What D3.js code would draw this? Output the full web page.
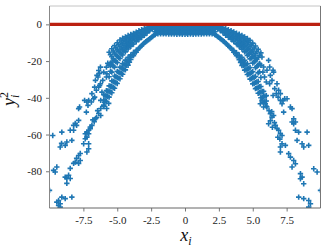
<!DOCTYPE html>
<html>
<head>
<meta charset="utf-8">
<script src="https://cdn.jsdelivr.net/npm/d3@7"></script>
<style>
  body { margin: 0; background: #fff; }
  svg { display: block; }
</style>
</head>
<body>
<svg width="325" height="249"></svg>
<script>
var xTicks = [-7.5, -5, -2.5, 0, 2.5, 5, 7.5];
var xTickLabels = ["-7.5", "-5.0", "-2.5", "0", "2.5", "5.0", "7.5"];
var yTicks = [0, -20, -40, -60, -80];
var yTickLabels = ["0", "-20", "-40", "-60", "-80"];
var refLevel = 0;

// dense parts read column by column: [x, [y, y, ...]]
var capCols = [
  [-2.2, [-0.8, -2.2, -4.0, -5.6]], [-2.1, [-1.5, -3.0, -4.7]],
  [-2.0, [-0.8, -2.3, -3.8, -5.1]], [-1.9, [-1.6, -3.1, -4.5]],
  [-1.8, [-0.9, -2.4, -3.9, -5.1]], [-1.7, [-1.5, -3.0, -4.5]],
  [-1.6, [-0.8, -2.3, -3.8, -5.2]], [-1.5, [-1.6, -3.1, -4.6]],
  [-1.4, [-0.9, -2.4, -3.9, -5.2]], [-1.3, [-1.5, -3.0, -4.5]],
  [-1.2, [-0.8, -2.3, -3.8, -5.3]], [-1.1, [-1.6, -3.1, -4.6]],
  [-1.0, [-0.9, -2.4, -3.9, -5.3]], [-0.9, [-1.5, -3.0, -4.6]],
  [-0.8, [-0.8, -2.3, -3.8, -5.3]], [-0.7, [-1.6, -3.1, -4.6]],
  [-0.6, [-0.9, -2.4, -3.9, -5.4]], [-0.5, [-1.5, -3.0, -4.6]],
  [-0.4, [-0.8, -2.3, -3.8, -5.3]], [-0.3, [-1.6, -3.1, -4.7]],
  [-0.2, [-0.9, -2.4, -3.9, -5.4]], [-0.1, [-1.5, -3.0, -4.6]],
  [0.0, [-0.8, -2.3, -3.8, -5.4]], [0.1, [-1.6, -3.1, -4.7]],
  [0.2, [-0.9, -2.4, -3.9, -5.4]], [0.3, [-1.5, -3.0, -4.6]],
  [0.4, [-0.8, -2.3, -3.8, -5.3]], [0.5, [-1.6, -3.1, -4.6]],
  [0.6, [-0.9, -2.4, -3.9, -5.4]], [0.7, [-1.5, -3.0, -4.6]],
  [0.8, [-0.8, -2.3, -3.8, -5.3]], [0.9, [-1.6, -3.1, -4.6]],
  [1.0, [-0.9, -2.4, -3.9, -5.3]], [1.1, [-1.5, -3.0, -4.5]],
  [1.2, [-0.8, -2.3, -3.8, -5.3]], [1.3, [-1.6, -3.1, -4.6]],
  [1.4, [-0.9, -2.4, -3.9, -5.2]], [1.5, [-1.5, -3.0, -4.5]],
  [1.6, [-0.8, -2.3, -3.8, -5.2]], [1.7, [-1.6, -3.1, -4.5]],
  [1.8, [-0.9, -2.4, -3.9, -5.1]], [1.9, [-1.5, -3.0, -4.5]],
  [2.0, [-0.8, -2.3, -3.8, -5.1]], [2.1, [-1.6, -3.0, -4.7]],
  [2.2, [-0.8, -2.2, -4.0, -5.6]]
];

var leftOuterCols = [
  [-2.3, [-1.6]],
  [-2.4, [-0.9, -2.6]], [-2.5, [-1.0, -2.0]],
  [-2.6, [-1.1, -3.4]], [-2.7, [-2.0, -3.4]],
  [-2.8, [-1.6, -3.2, -4.7]], [-2.9, [-2.8, -4.5]],
  [-3.0, [-2.3, -4.2, -6.0]], [-3.1, [-3.6, -5.6]],
  [-3.2, [-2.9, -5.0, -7.1]], [-3.3, [-4.3, -6.6]],
  [-3.4, [-3.5, -5.9, -8.3]], [-3.5, [-5.1, -7.6]],
  [-3.6, [-4.2, -6.7, -9.5]], [-3.7, [-5.9, -8.6]],
  [-3.8, [-4.9, -7.6, -10.7]], [-3.9, [-6.3, -8.6, -10.8]],
  [-4.0, [-5.5, -7.7, -9.9, -12.0]], [-4.1, [-7.0, -9.3, -11.6]],
  [-4.2, [-6.1, -8.5, -11.0, -13.4]], [-4.3, [-7.7, -10.3, -12.9]],
  [-4.4, [-6.8, -9.5, -12.3, -15.0]], [-4.5, [-8.6, -11.5, -14.4]],
  [-4.6, [-7.6, -10.6, -13.7, -16.7]], [-4.7, [-9.6, -12.9, -16.1]],
  [-4.8, [-8.5, -11.9, -15.4, -18.6]], [-4.9, [-11.0, -14.6, -18.1]],
  [-5.0, [-10.0, -13.7, -17.4, -20.9]], [-5.1, [-12.7, -16.6, -20.3]],
  [-5.2, [-11.6, -15.6, -19.6, -23.3]], [-5.3, [-14.5, -18.7, -22.7]],
  [-5.4, [-13.3, -17.6, -21.9, -26.0]], [-5.5, [-16.5, -21.0, -25.5]],
  [-5.6, [-15.2, -22.0, -28.5]]
];

var leftInnerCols = [
  [-2.3, [-6.0]],
  [-2.4, [-6.6]], [-2.5, [-7.2]],
  [-2.6, [-7.8]], [-2.7, [-8.35]],
  [-2.8, [-8.9]], [-2.9, [-9.5]],
  [-3.0, [-10.1]], [-3.1, [-10.85]],
  [-3.2, [-11.6]], [-3.3, [-12.3]],
  [-3.4, [-13.0]], [-3.5, [-14.0]],
  [-3.6, [-14.1, -15.1]], [-3.7, [-15.4]],
  [-3.8, [-15.3, -17.0]], [-3.9, [-17.0]],
  [-4.0, [-16.6, -19.1]], [-4.1, [-18.2, -20.6]],
  [-4.2, [-17.9, -20.1, -22.3]], [-4.3, [-19.9, -22.3]],
  [-4.4, [-19.5, -22.1, -24.8]], [-4.5, [-21.8, -24.6]],
  [-4.6, [-21.3, -24.2, -27.2]], [-4.7, [-23.8, -26.9]],
  [-4.8, [-23.3, -26.4, -29.6]], [-4.9, [-26.0, -29.3]],
  [-5.0, [-25.6, -28.9, -32.2]], [-5.1, [-28.5, -31.8]],
  [-5.2, [-28.1, -31.4, -34.8]], [-5.3, [-31.1, -34.4]],
  [-5.4, [-30.8, -34.0, -37.2]], [-5.5, [-33.7, -36.8]],
  [-5.6, [-33.5, -36.5, -39.6]], [-5.7, [-36.3, -39.3]],
  [-5.8, [-36.1, -39.0, -42.0]], [-5.9, [-38.7, -41.6]],
  [-6.0, [-38.3, -41.2, -44.0]]
];

var rightOuterCols = [
  [2.3, [-1.6]],
  [2.4, [-0.9, -2.5]], [2.5, [-1.0, -2.0]],
  [2.6, [-1.2, -3.4]], [2.7, [-2.0, -3.3]],
  [2.8, [-1.7, -3.2, -4.6]], [2.9, [-2.8, -4.4]],
  [3.0, [-2.3, -4.1, -5.9]], [3.1, [-3.5, -5.5]],
  [3.2, [-2.9, -5.0, -7.0]], [3.3, [-4.2, -6.5]],
  [3.4, [-3.4, -5.8, -8.2]], [3.5, [-5.0, -7.6]],
  [3.6, [-4.1, -6.7, -9.4]], [3.7, [-5.8, -8.5]],
  [3.8, [-4.8, -7.6, -10.6]], [3.9, [-6.2, -8.6, -10.9]],
  [4.0, [-5.4, -7.7, -9.9, -12.1]], [4.1, [-6.9, -9.3, -11.7]],
  [4.2, [-6.0, -8.5, -11.0, -13.5]], [4.3, [-7.6, -10.2, -12.9]],
  [4.4, [-6.8, -9.5, -12.2, -15.0]], [4.5, [-8.6, -11.5, -14.5]],
  [4.6, [-7.7, -10.7, -13.8, -16.9]], [4.7, [-9.7, -13.0, -16.3]],
  [4.8, [-8.7, -12.0, -15.4, -18.8]], [4.9, [-11.2, -14.8, -18.3]],
  [5.0, [-10.2, -13.9, -17.5, -21.1]], [5.1, [-12.9, -16.8, -20.5]],
  [5.2, [-11.8, -15.8, -19.8, -23.6]], [5.3, [-14.8, -19.0, -23.0]],
  [5.4, [-13.6, -18.0, -22.3, -26.4]], [5.5, [-16.8, -21.3, -25.8]],
  [5.6, [-15.5, -22.3, -28.9]]
];

var rightInnerCols = [
  [2.3, [-6.0]],
  [2.4, [-6.6]], [2.5, [-7.1]],
  [2.6, [-7.7]], [2.7, [-8.3]],
  [2.8, [-8.9]], [2.9, [-9.5]],
  [3.0, [-10.2]], [3.1, [-10.9]],
  [3.2, [-11.7]], [3.3, [-12.4]],
  [3.4, [-13.1]], [3.5, [-14.1]],
  [3.6, [-14.2, -15.2]], [3.7, [-15.5]],
  [3.8, [-15.4, -17.1]], [3.9, [-17.1]],
  [4.0, [-16.7, -19.2]], [4.1, [-18.3, -20.7]],
  [4.2, [-18.0, -20.2, -22.4]], [4.3, [-20.0, -22.4]],
  [4.4, [-19.6, -22.2, -24.9]], [4.5, [-21.9, -24.7]],
  [4.6, [-21.4, -24.3, -27.3]], [4.7, [-24.0, -27.1]],
  [4.8, [-23.5, -26.6, -29.8]], [4.9, [-26.2, -29.5]],
  [5.0, [-25.8, -29.1, -32.4]], [5.1, [-28.8, -32.1]],
  [5.2, [-28.4, -31.7, -35.0]], [5.3, [-31.4, -34.7]],
  [5.4, [-31.1, -34.3, -37.5]], [5.5, [-34.0, -37.2]],
  [5.6, [-33.8, -36.9, -40.0]], [5.7, [-36.6, -39.7]],
  [5.8, [-36.5, -39.4, -42.4]], [5.9, [-39.1, -42.0]],
  [6.0, [-38.8, -41.7, -44.6]]
];

// loose points [x, y]
var leftLoose = [
  [-5.39, -20.5], [-5.5, -22.3], [-5.7, -21.2], [-5.8, -23.3], [-5.76, -26.9], [-5.8, -28.7],
  [-6.0, -26.0], [-6.07, -30.5], [-6.24, -23.3], [-6.37, -25.1], [-6.3, -26.7], [-6.42, -28.7],
  [-6.5, -27.8], [-6.61, -30.5], [-6.3, -33.2], [-6.24, -32.3], [-6.37, -34.2], [-6.54, -35.9],
  [-6.67, -34.2], [-6.13, -36.9], [-6.67, -39.6], [-6.74, -40.5], [-6.87, -37.7], [-6.91, -42.3],
  [-7.11, -41.4], [-7.24, -42.3], [-7.41, -41.4], [-7.16, -44.1], [-7.28, -47.8], [-7.78, -45.0],
  [-7.85, -45.9], [-7.85, -52.3], [-8.10, -53.9], [-8.0, -55.0], [-8.22, -55.0], [-9.09, -58.7],
  [-8.47, -57.7], [-8.22, -57.7], [-9.76, -60.5], [-9.11, -64.8], [-8.84, -65.9], [-9.21, -66.8],
  [-8.72, -64.1], [-8.35, -63.2], [-9.46, -77.7], [-9.70, -79.5], [-9.58, -80.4], [-10.0, -90.4],
  [-6.22, -41.4], [-5.93, -42.5], [-5.63, -43.0], [-6.0, -44.7], [-5.78, -45.8], [-6.22, -45.8],
  [-6.45, -47.0], [-6.37, -48.5], [-6.52, -50.7], [-6.22, -49.6], [-6.59, -51.2], [-6.8, -52.0],
  [-6.7, -53.0], [-6.87, -55.0], [-6.99, -55.9], [-6.99, -56.8], [-7.11, -57.7], [-7.24, -58.7],
  [-7.36, -59.6], [-7.11, -59.6], [-7.24, -61.4], [-7.36, -62.3], [-7.48, -65.0], [-7.11, -65.0],
  [-7.11, -67.7], [-7.24, -69.5], [-7.73, -70.3], [-7.85, -71.4], [-8.0, -73.0], [-7.73, -74.1],
  [-8.10, -75.0], [-7.85, -75.7], [-8.22, -75.7], [-8.47, -78.4], [-8.59, -82.2], [-8.47, -83.9],
  [-8.84, -83.2], [-8.72, -83.9], [-8.72, -86.6], [-8.35, -94.1], [-8.84, -94.9], [-9.09, -94.1],
  [-9.33, -95.9], [-9.46, -96.8], [-9.21, -97.7], [-9.33, -98.6], [-9.21, -99.5]
];

var rightLoose = [
  [4.64, -8.7], [4.9, -15.5], [5.2, -18.5], [5.5, -21.5], [5.68, -17.8], [6.17, -19.6],
  [5.8, -23.2], [6.05, -25.0], [6.25, -23.2], [6.54, -26.0], [6.5, -25.0], [6.3, -27.8],
  [5.75, -26.0], [5.87, -28.7], [6.42, -30.5], [6.0, -31.4], [6.25, -32.3], [6.79, -32.3],
  [6.62, -35.0], [6.91, -35.9], [7.04, -37.7], [6.74, -37.7], [6.5, -38.7], [6.87, -39.6],
  [7.36, -40.5], [7.53, -40.5], [7.04, -41.4], [7.24, -41.4], [7.16, -43.2], [7.78, -45.0],
  [7.90, -45.9], [7.28, -47.8], [8.02, -51.4], [7.90, -53.2], [8.15, -53.2], [8.02, -54.1],
  [8.15, -57.7], [8.39, -58.7], [9.01, -58.7], [8.27, -63.2], [8.64, -65.0], [9.13, -65.9],
  [8.76, -66.8], [9.50, -78.6], [9.75, -80.4], [10.0, -90.4],
  [5.56, -43.2], [5.68, -41.4], [5.93, -43.2], [5.80, -45.0], [6.05, -45.0], [6.2, -47.0],
  [6.4, -47.5], [6.30, -48.6], [6.54, -49.6], [6.42, -50.5], [6.3, -52.5], [6.6, -53.5],
  [6.17, -54.1], [6.67, -55.0], [6.45, -56.0], [6.79, -56.8], [6.91, -57.7], [7.04, -59.5],
  [7.16, -60.5], [6.85, -61.5], [7.0, -62.5], [7.16, -65.0], [7.41, -65.9], [7.04, -66.8],
  [7.04, -69.5], [7.65, -70.4], [7.78, -72.3], [8.02, -74.1], [8.15, -75.9], [7.90, -77.7],
  [8.52, -81.3], [8.64, -83.2], [8.52, -84.1], [8.76, -86.8], [8.39, -94.1], [8.76, -94.9],
  [9.13, -95.9], [9.26, -97.7], [9.13, -99.5]
];

function drawChart() {
  var svg = d3.select("svg"),
    plotLeft = 49.5, plotRight = 320.5, plotTop = 6, plotBottom = 208,
    serif = "Liberation Serif, Times New Roman, serif";

  var x = d3.scaleLinear().domain([-10, 10]).range([plotLeft, plotRight]),
    y = d3.scaleLinear().domain([-100, 10]).range([plotBottom, plotTop]);

  var pts = [];
  function addCols(cols) {
    cols.forEach(function(c) {
      c[1].forEach(function(v) { pts.push([c[0], v]); });
    });
  }
  [capCols, leftOuterCols, leftInnerCols, rightOuterCols, rightInnerCols].forEach(addCols);
  pts = pts.concat(leftLoose, rightLoose);

  svg.append("clipPath").attr("id", "plotclip")
    .append("rect")
    .attr("x", plotLeft).attr("y", plotTop)
    .attr("width", plotRight - plotLeft).attr("height", plotBottom - plotTop);

  svg.append("g")
    .attr("clip-path", "url(#plotclip)")
    .selectAll("path")
    .data(pts)
    .enter().append("path")
    .attr("d", "M-2.7,0H2.7M0,-2.7V2.7")
    .attr("transform", function(d) { return "translate(" + x(d[0]) + "," + y(d[1]) + ")"; })
    .attr("stroke", "#1f77b4")
    .attr("stroke-width", 1.6)
    .attr("fill", "none");

  // red reference line
  svg.append("line")
    .attr("x1", x(-10)).attr("x2", x(10))
    .attr("y1", y(refLevel)).attr("y2", y(refLevel))
    .attr("stroke", "#bb2010")
    .attr("stroke-width", 3.3);

  // axes
  var gx = svg.append("g")
    .attr("transform", "translate(0," + plotBottom + ")")
    .call(d3.axisBottom(x).tickValues(xTicks)
      .tickFormat(function(d, i) { return xTickLabels[i]; })
      .tickSize(3.5).tickPadding(5));

  var gy = svg.append("g")
    .attr("transform", "translate(" + plotLeft + ",0)")
    .call(d3.axisLeft(y).tickValues(yTicks)
      .tickFormat(function(d, i) { return yTickLabels[i]; })
      .tickSize(3.5).tickPadding(4));

  [gx, gy].forEach(function(g) {
    g.select(".domain").remove();
    g.attr("font-family", serif).attr("font-size", 11);
    g.selectAll(".tick line").attr("stroke", "#555").attr("stroke-width", 0.8);
    g.selectAll(".tick text").attr("fill", "#222");
  });

  // spines
  svg.append("line").attr("x1", plotLeft).attr("x2", plotRight).attr("y1", plotTop).attr("y2", plotTop)
    .attr("stroke", "#c4c4c4").attr("stroke-width", 1);
  svg.append("line").attr("x1", plotRight).attr("x2", plotRight).attr("y1", plotTop).attr("y2", plotBottom)
    .attr("stroke", "#777").attr("stroke-width", 1);
  svg.append("line").attr("x1", plotLeft).attr("x2", plotLeft).attr("y1", plotTop).attr("y2", plotBottom)
    .attr("stroke", "#888").attr("stroke-width", 1);
  svg.append("line").attr("x1", plotLeft).attr("x2", plotRight).attr("y1", plotBottom).attr("y2", plotBottom)
    .attr("stroke", "#666").attr("stroke-width", 1);

  // axis labels
  var xl = svg.append("text")
    .attr("x", 186).attr("y", 241)
    .attr("text-anchor", "middle")
    .attr("font-family", serif)
    .attr("font-style", "italic")
    .attr("fill", "#111");
  xl.append("tspan").attr("font-size", 18).text("x");
  xl.append("tspan").attr("font-size", 12).attr("dy", 4).text("i");

  var yl = svg.append("text")
    .attr("transform", "translate(15,99) rotate(-90)")
    .attr("text-anchor", "middle")
    .attr("font-family", serif)
    .attr("font-style", "italic")
    .attr("fill", "#111");
  yl.append("tspan").attr("font-size", 18).text("y");
  yl.append("tspan").attr("font-size", 12).attr("font-style", "normal").attr("dy", -7).text("2");
  yl.append("tspan").attr("font-size", 12).attr("dx", -6).attr("dy", 11).text("i");
}

drawChart();
</script>
</body>
</html>
